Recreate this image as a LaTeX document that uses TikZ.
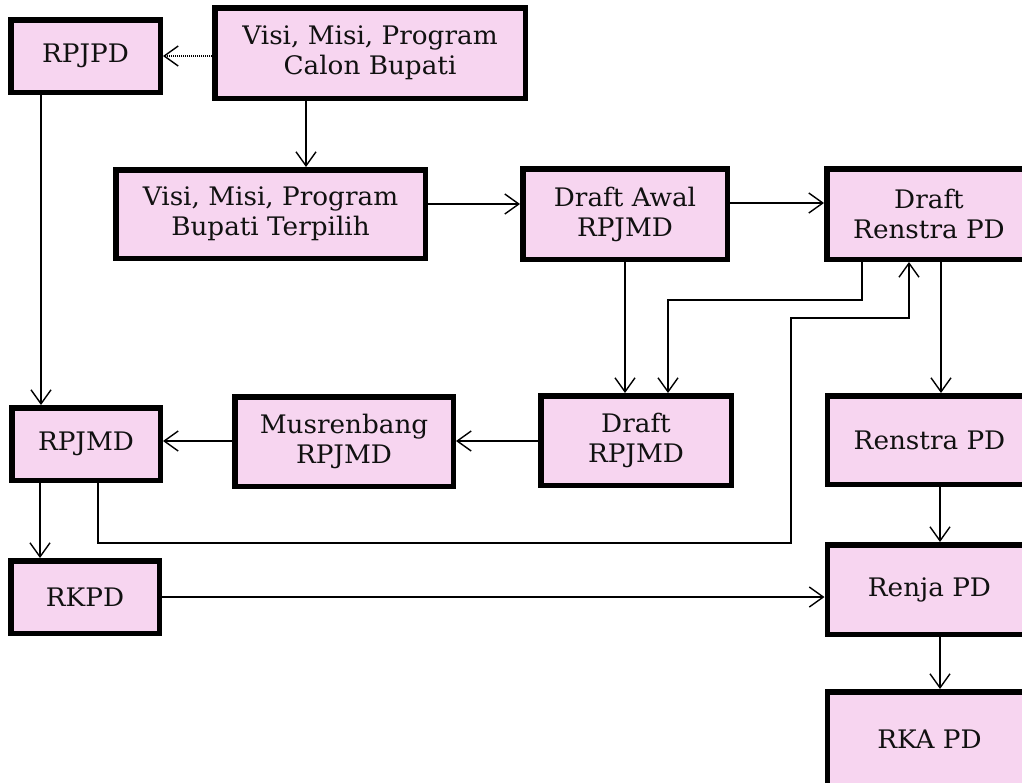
\documentclass[tikz,border=0pt]{standalone}
\usepackage{fontspec}
\setmainfont[FakeStretch=1.03]{DejaVu Serif}
\usetikzlibrary{arrows.meta,calc}
\definecolor{boxpink}{HTML}{F7D5F0}
\definecolor{inkc}{HTML}{111111}
\tikzset{
  pbox/.style={draw=black, line width=5.5pt, fill=boxpink, inner sep=0pt, align=center,
    text=inkc, font=\fontsize{25.5}{30}\selectfont},
  conn/.style={line width=1.4pt, -{Straight Barb[length=14pt,width=20pt,line width=1.4pt]}},
  dotconn/.style={line width=1.4pt, dash pattern=on 1pt off 1pt, -{Straight Barb[length=14pt,width=20pt,line width=1.4pt]}},
}
\begin{document}
\begin{tikzpicture}[x=1pt,y=-1pt]
\clip (0,0) rectangle (1022,782);
\fill[white] (0,0) rectangle (1022,782);
% nodes
\node[pbox, minimum width=149.5pt, minimum height=72.5pt] (rpjpd) at (85.5,56) {RPJPD};
\node[pbox, minimum width=310.5pt, minimum height=90.5pt] (calon) at (370,53) {Visi, Misi, Program\\Calon Bupati};
\node[pbox, minimum width=309.5pt, minimum height=88.5pt] (terpilih) at (270.5,214) {Visi, Misi, Program\\Bupati Terpilih};
\node[pbox, minimum width=204.5pt, minimum height=90.5pt] (awal) at (625,214) {Draft Awal\\RPJMD};
\node[pbox, minimum width=204.5pt, minimum height=90.5pt] (drenstra) at (929,214) {Draft\\Renstra PD};
\node[pbox, minimum width=190.5pt, minimum height=89.5pt] (drpjmd) at (636,440.5) {Draft\\RPJMD};
\node[pbox, minimum width=218.5pt, minimum height=89.5pt] (musren) at (344,441.5) {Musrenbang\\RPJMD};
\node[pbox, minimum width=148.5pt, minimum height=72.5pt] (rpjmd) at (86,444) {RPJMD};
\node[pbox, minimum width=204.5pt, minimum height=88.5pt] (renstra) at (929.5,440) {Renstra PD};
\node[pbox, minimum width=148.5pt, minimum height=72.5pt] (rkpd) at (85,597) {RKPD};
\node[pbox, minimum width=204.5pt, minimum height=89.5pt] (renja) at (929.5,589.5) {Renja PD};
\node[pbox, minimum width=204.5pt, minimum height=94.5pt] (rka) at (929.5,739) {RKA PD};
% guide coordinates
\coordinate (gx306) at (306,0);
\coordinate (gy204) at (0,204);
\coordinate (gy203) at (0,203);
\coordinate (gx625) at (625,0);
\coordinate (p1) at (862,300);
\coordinate (p2) at (668,300);
\coordinate (q1) at (98,543);
\coordinate (q2) at (791,543);
\coordinate (q3) at (791,318);
\coordinate (q4) at (909,318);
\coordinate (gx941) at (941,0);
\coordinate (gy441) at (0,441);
\coordinate (gx41) at (41,0);
\coordinate (gx40) at (40,0);
\coordinate (gy597) at (0,597);
\coordinate (gx940) at (940,0);
% connectors
\draw[dotconn] (calon.west |- rpjpd.east) -- (rpjpd.east);
\draw[conn] (calon.south -| gx306) -- (terpilih.north -| gx306);
\draw[conn] (terpilih.east |- gy204) -- (awal.west |- gy204);
\draw[conn] (awal.east |- gy203) -- (drenstra.west |- gy203);
\draw[conn] (awal.south -| gx625) -- (drpjmd.north -| gx625);
\draw[conn] (drenstra.south -| p1) -- (p1) -- (p2) -- (drpjmd.north -| p2);
\draw[conn] (rpjmd.south -| q1) -- (q1) -- (q2) -- (q3) -- (q4) -- (drenstra.south -| q4);
\draw[conn] (drenstra.south -| gx941) -- (renstra.north -| gx941);
\draw[conn] (drpjmd.west |- gy441) -- (musren.east |- gy441);
\draw[conn] (musren.west |- gy441) -- (rpjmd.east |- gy441);
\draw[conn] (rpjpd.south -| gx41) -- (rpjmd.north -| gx41);
\draw[conn] (rpjmd.south -| gx40) -- (rkpd.north -| gx40);
\draw[conn] (rkpd.east |- gy597) -- (renja.west |- gy597);
\draw[conn] (renstra.south -| gx940) -- (renja.north -| gx940);
\draw[conn] (renja.south -| gx940) -- (rka.north -| gx940);
\end{tikzpicture}
\end{document}
